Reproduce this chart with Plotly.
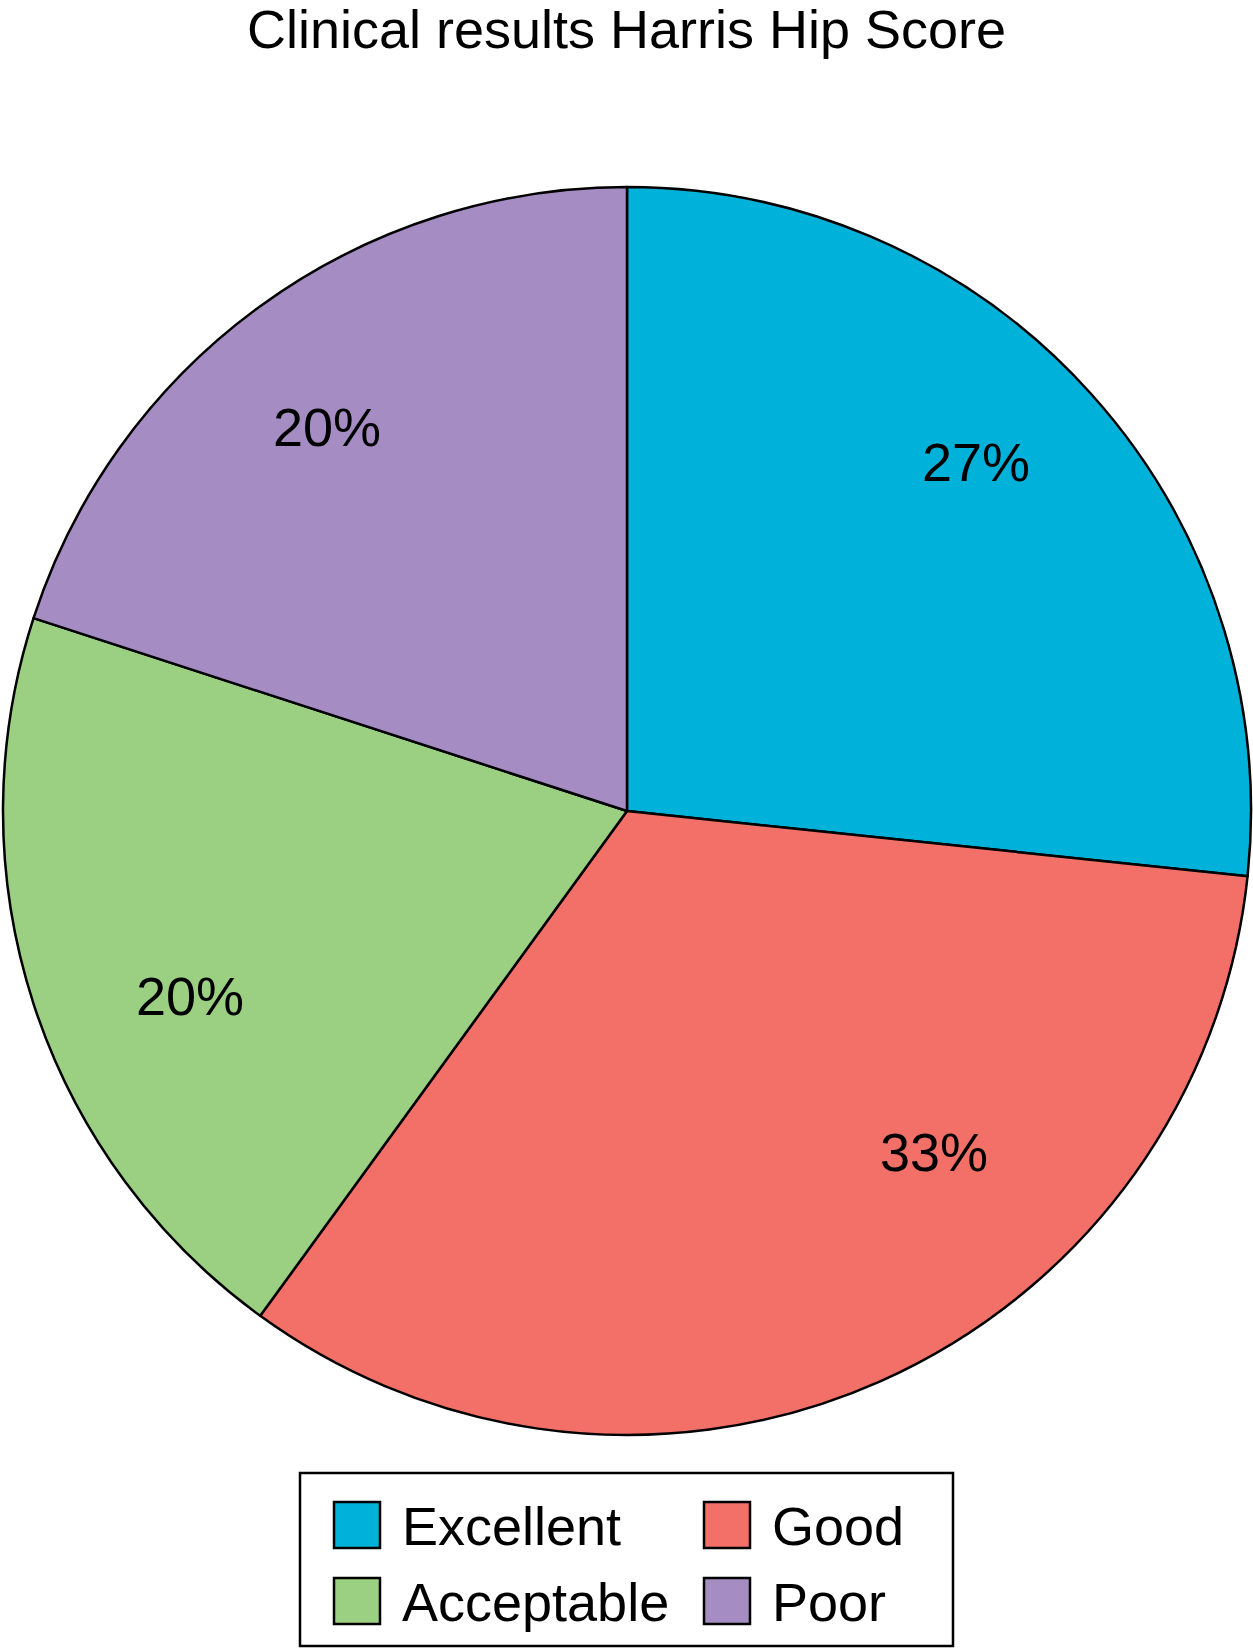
import math
import plotly.graph_objects as go

# ---- data ----
categories = ["Excellent", "Good", "Acceptable", "Poor"]
counts = [4, 5, 3, 3]
title_text = "Clinical results Harris Hip Score"

# ---- style ----
colors = ["#00B2DA", "#F27067", "#9BCF82", "#A58DC3"]
FONT = "Liberation Sans, Arial, Helvetica, sans-serif"
FS = 54
W, H = 1253, 1649
CX, CY, R = 627, 811, 624          # pie centre / radius in pixels
label_radius = [0.79, 0.735, 0.76, 0.78]
label_angle_shift = [-3, -18, -5, -2]

fig = go.Figure()
fig.add_trace(go.Pie(
    labels=categories,
    values=counts,
    sort=False,
    direction="clockwise",
    rotation=0,
    marker=dict(colors=colors, line=dict(color="black", width=2.5)),
    textinfo="none",
    hoverinfo="label+percent",
    showlegend=False,
    domain=dict(x=[max(0, (CX - R) / W), min(1, (CX + R) / W)],
                y=[1 - (CY + R) / H, 1 - (CY - R) / H]),
))

# percentage labels, positioned at the slice mid-angles
total = sum(counts)
cum = 0
annotations = []
for i, v in enumerate(counts):
    mid = (cum + v / 2) / total * 360 + label_angle_shift[i]
    cum += v
    rr = R * label_radius[i]
    px = CX + rr * math.sin(math.radians(mid))
    py = CY - rr * math.cos(math.radians(mid))
    annotations.append(dict(
        x=px / W, y=1 - py / H, xref="paper", yref="paper",
        text=f"{round(v / total * 100)}%", showarrow=False,
        font=dict(family=FONT, size=FS, color="black"),
        xanchor="center", yanchor="middle",
    ))

# custom legend (2 columns)
shapes = []
LX0, LX1, LY0, LY1 = 300, 953, 1473, 1646
shapes.append(dict(type="rect", xref="paper", yref="paper",
                   x0=LX0 / W, x1=LX1 / W, y0=1 - LY1 / H, y1=1 - LY0 / H,
                   line=dict(color="black", width=2.5), fillcolor="white", layer="above"))
col_x = [334, 704]
row_y = [1525, 1601]
SW = 46
for i, name in enumerate(categories):
    cx = col_x[i % 2]
    cy = row_y[i // 2]
    shapes.append(dict(type="rect", xref="paper", yref="paper",
                       x0=cx / W, x1=(cx + SW) / W,
                       y0=1 - (cy + SW / 2) / H, y1=1 - (cy - SW / 2) / H,
                       fillcolor=colors[i], line=dict(color="black", width=2.5), layer="above"))
    annotations.append(dict(
        x=(cx + SW + 20) / W, y=1 - (cy + 1) / H, xref="paper", yref="paper",
        text=name, showarrow=False, xanchor="left", yanchor="middle",
        font=dict(family=FONT, size=FS, color="black"),
    ))

fig.update_layout(
    width=W, height=H,
    margin=dict(l=0, r=0, t=0, b=0),
    paper_bgcolor="white", plot_bgcolor="white",
    title=dict(text=title_text, x=0.5, xanchor="center", y=1 - 29 / H, yanchor="middle",
               font=dict(family=FONT, size=FS, color="black")),
    annotations=annotations,
    shapes=shapes,
    showlegend=False,
)

fig.write_html("out.html", config={"displayModeBar": False},
               post_script="document.body.style.margin='0';")
